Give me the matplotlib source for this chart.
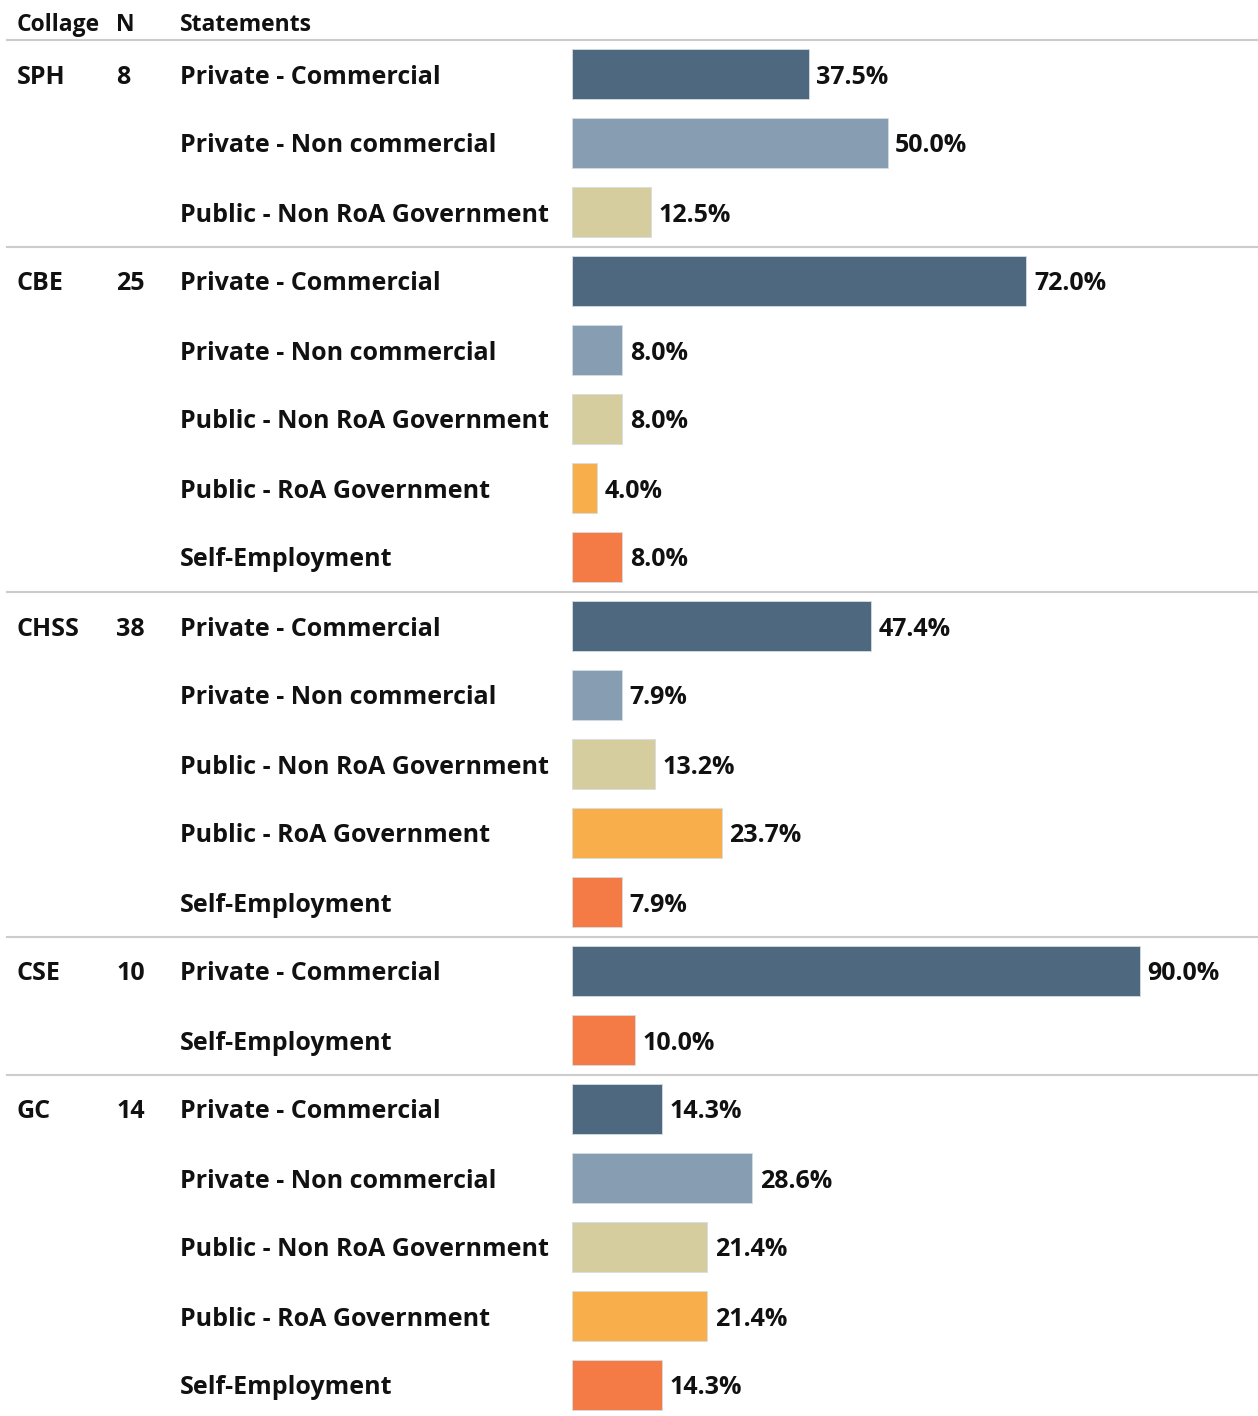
import matplotlib
matplotlib.use("Agg")
import matplotlib.pyplot as plt
from matplotlib.transforms import blended_transform_factory

colleges = ["SPH", "CBE", "CHSS", "CSE", "GC"]
n_values = [8, 25, 38, 10, 14]
group_statements = [
    ["Private - Commercial", "Private - Non commercial", "Public - Non RoA Government"],
    ["Private - Commercial", "Private - Non commercial", "Public - Non RoA Government",
     "Public - RoA Government", "Self-Employment"],
    ["Private - Commercial", "Private - Non commercial", "Public - Non RoA Government",
     "Public - RoA Government", "Self-Employment"],
    ["Private - Commercial", "Self-Employment"],
    ["Private - Commercial", "Private - Non commercial", "Public - Non RoA Government",
     "Public - RoA Government", "Self-Employment"],
]
group_values = [
    [37.5, 50.0, 12.5],
    [72.0, 8.0, 8.0, 4.0, 8.0],
    [47.4, 7.9, 13.2, 23.7, 7.9],
    [90.0, 10.0],
    [14.3, 28.6, 21.4, 21.4, 14.3],
]
colors = {
    "Private - Commercial": "#4E687F",
    "Private - Non commercial": "#879DB1",
    "Public - Non RoA Government": "#D6CD9E",
    "Public - RoA Government": "#F8AF4B",
    "Self-Employment": "#F47B45",
}

W, H = 1258, 1416
fig = plt.figure(figsize=(W / 100, H / 100), dpi=100)
ax = fig.add_axes([0, 0, 1, 1])

px_per_pct = (1140 - 572) / 90.0
x0 = 572
ax.set_xlim(-x0 / px_per_pct, (W - x0) / px_per_pct)
row_px = 69.0
top_px = 74.0
ax.set_ylim((H - top_px) / row_px, -top_px / row_px)
ax.axis("off")

font = "Open Sans"
fs = 18.0
tkw = dict(fontsize=fs, fontweight="bold", family=font, va="center_baseline",
           ha="left", color="#111111")
trans = blended_transform_factory(fig.transFigure, ax.transData)

# header
hy = (22 - top_px) / row_px
for txt, px in [("Collage", 17), ("N", 116), ("Statements", 180)]:
    ax.text(px / W, hy, txt, transform=trans, **{**tkw, "fontsize": 16.5})
ax.plot([7 / W, 1], [-0.5, -0.5], transform=trans, color="#CCCCCC", lw=1.5,
        clip_on=False)

row = 0
for gi, (col, n, stmts, vals) in enumerate(zip(colleges, n_values, group_statements, group_values)):
    if gi > 0:
        ax.plot([7 / W, 1], [row - 0.5, row - 0.5], transform=trans,
                color="#CCCCCC", lw=1.5, clip_on=False)
    ax.text(17 / W, row, col, transform=trans, **tkw)
    ax.text(116 / W, row, str(n), transform=trans, **tkw)
    for s, v in zip(stmts, vals):
        ax.text(180 / W, row, s, transform=trans, **tkw)
        ax.barh(row, v, height=50 / row_px, left=0, color=colors[s],
                edgecolor="#D5DDE4", linewidth=0.6)
        ax.text(v + 7.5 / px_per_pct, row, f"{v:.1f}%", **tkw)
        row += 1

fig.savefig("out.png", dpi=100)
